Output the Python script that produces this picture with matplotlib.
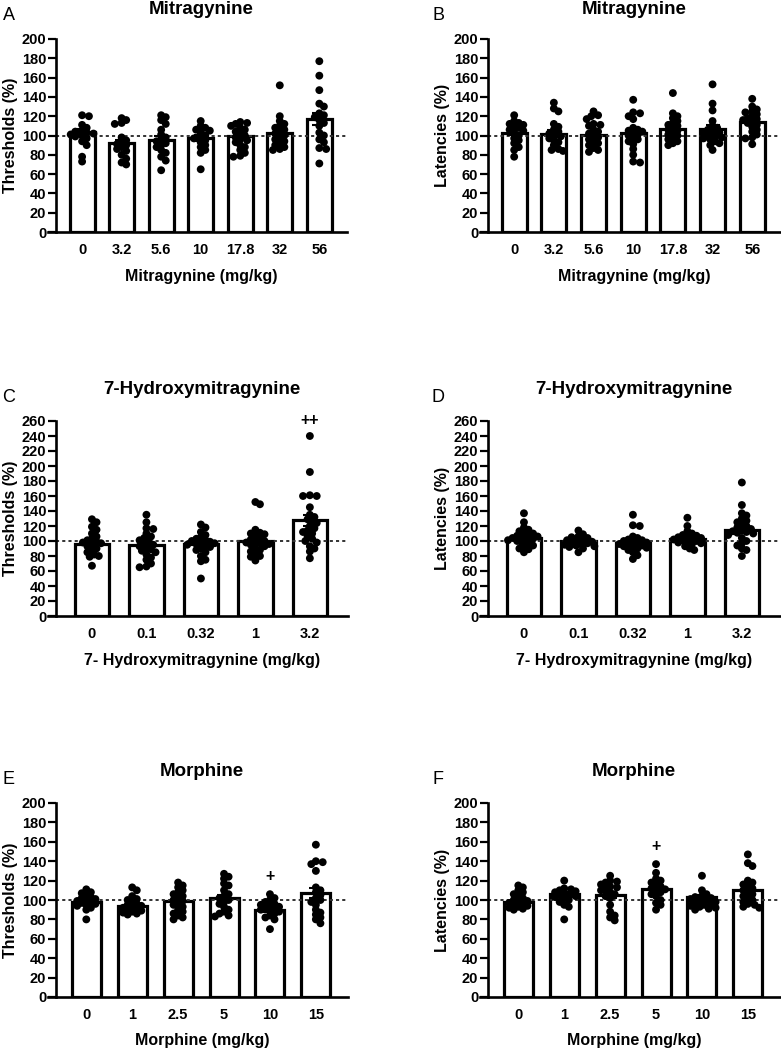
import numpy as np
import matplotlib
matplotlib.use('Agg')
import matplotlib.pyplot as plt

plt.rcParams['font.family'] = ['Liberation Sans', 'DejaVu Sans']

# ---------------- data ----------------
mit_doses = ['0', '3.2', '5.6', '10', '17.8', '32', '56']
hmg_doses = ['0', '0.1', '0.32', '1', '3.2']
mor_doses = ['0', '1', '2.5', '5', '10', '15']

# Panel A: Mitragynine thresholds (%)
a_means = [104, 92, 95.5, 97, 99, 103, 117]
a_points = [
    [121, 120, 111, 108, 105, 104, 103, 102, 101, 100, 99, 97, 94, 90, 78, 73],
    [118, 116, 113, 112, 98, 95, 93, 91, 90, 88, 86, 84, 80, 76, 72, 70],
    [121, 119, 116, 112, 106, 101, 98, 96, 94, 92, 90, 88, 85, 82, 78, 74, 64],
    [115, 110, 108, 106, 105, 103, 100, 98, 97, 95, 93, 90, 88, 85, 82, 65],
    [114, 113, 112, 110, 108, 106, 104, 102, 100, 98, 96, 95, 93, 90, 88, 85, 82, 79, 78],
    [152, 120, 115, 112, 110, 108, 106, 104, 102, 100, 98, 96, 94, 92, 90, 88, 86, 85],
    [177, 162, 147, 133, 130, 123, 121, 119, 116, 113, 110, 103, 100, 96, 93, 87, 86, 71],
]

# Panel B: Mitragynine latencies (%)
b_means = [103, 102, 101, 103, 107, 107, 114]
b_points = [
    [121, 115, 113, 112, 111, 110, 108, 106, 105, 103, 100, 97, 95, 92, 88, 85, 78],
    [134, 128, 125, 112, 109, 106, 104, 102, 100, 99, 97, 95, 93, 90, 86, 85, 84],
    [125, 121, 120, 117, 112, 111, 110, 106, 104, 102, 100, 98, 96, 94, 92, 90, 87, 85, 83],
    [137, 124, 123, 120, 117, 108, 106, 105, 104, 103, 101, 100, 98, 96, 94, 91, 86, 80, 73, 72],
    [144, 123, 120, 118, 115, 113, 111, 110, 108, 106, 105, 103, 101, 100, 98, 96, 94, 92, 90],
    [153, 133, 126, 115, 110, 108, 106, 104, 103, 102, 100, 99, 98, 97, 96, 94, 92, 90, 85],
    [138, 130, 127, 125, 124, 122, 120, 118, 117, 116, 115, 113, 111, 109, 106, 104, 101, 98, 97, 91],
]

# Panel C: 7-Hydroxymitragynine thresholds (%)
c_means = [96.5, 95, 95.5, 100, 127.5]
c_points = [
    [129, 125, 119, 115, 110, 106, 103, 101, 99, 98, 97, 95, 93, 90, 88, 85, 82, 80, 79, 67],
    [135, 125, 117, 116, 110, 106, 104, 101, 99, 97, 95, 93, 91, 89, 87, 85, 82, 78, 75, 70, 66, 65],
    [122, 118, 112, 108, 105, 103, 101, 100, 99, 98, 97, 96, 95, 94, 92, 90, 88, 85, 80, 75, 73, 50],
    [152, 149, 115, 111, 110, 109, 106, 104, 102, 100, 99, 98, 97, 96, 95, 93, 90, 88, 86, 83, 80, 79, 74],
    [240, 192, 161, 160, 160, 145, 135, 132, 129, 126, 124, 120, 117, 114, 112, 110, 106, 103, 100, 98, 93, 90, 86, 77],
]

# Panel D: 7-Hydroxymitragynine latencies (%)
d_means = [104, 100, 98, 103, 114.5]
d_points = [
    [137, 125, 118, 115, 113, 111, 110, 108, 107, 106, 105, 104, 103, 102, 101, 100, 98, 96, 94, 92, 90, 89, 85],
    [114, 109, 106, 105, 104, 102, 101, 100, 99, 98, 97, 96, 95, 94, 93, 92, 90, 85],
    [135, 121, 120, 106, 104, 102, 101, 100, 99, 98, 97, 96, 95, 94, 93, 92, 91, 90, 88, 85, 81, 76],
    [131, 120, 113, 110, 108, 107, 106, 105, 104, 103, 102, 101, 100, 99, 98, 97, 96, 93, 90, 88],
    [178, 148, 137, 134, 130, 127, 125, 122, 120, 118, 116, 114, 113, 112, 111, 110, 108, 104, 100, 97, 94, 90, 88, 80],
]

# Panel E: Morphine thresholds (%)
e_means = [98, 93.5, 99, 102, 90, 107]
e_points = [
    [111, 108, 107, 105, 103, 102, 101, 100, 99, 98, 97, 96, 95, 94, 92, 90, 80],
    [113, 110, 104, 101, 100, 98, 96, 95, 94, 93, 92, 91, 90, 89, 88, 87, 86, 85],
    [118, 115, 113, 110, 108, 106, 104, 102, 100, 99, 97, 95, 93, 90, 88, 86, 84, 82, 80],
    [127, 124, 122, 117, 115, 110, 106, 104, 102, 100, 98, 96, 93, 90, 88, 86, 84, 83],
    [106, 102, 100, 98, 96, 95, 94, 93, 92, 91, 90, 89, 88, 86, 84, 82, 80, 70],
    [157, 140, 139, 137, 130, 113, 110, 108, 105, 102, 100, 98, 95, 90, 87, 85, 82, 80, 76],
]

# Panel F: Morphine latencies (%)
f_means = [98, 106, 105, 111, 103, 110]
f_points = [
    [115, 113, 110, 108, 106, 104, 102, 100, 99, 98, 97, 96, 95, 94, 93, 92, 91, 90],
    [120, 112, 111, 110, 109, 108, 107, 106, 105, 104, 103, 102, 100, 98, 95, 93, 80],
    [125, 120, 119, 118, 116, 114, 113, 112, 110, 108, 106, 104, 102, 95, 88, 84, 82, 79],
    [137, 128, 122, 120, 118, 116, 114, 112, 111, 110, 108, 106, 104, 100, 97, 95, 90],
    [125, 110, 106, 104, 103, 102, 101, 100, 99, 98, 97, 96, 95, 94, 93, 92, 91, 90],
    [147, 138, 135, 120, 118, 116, 114, 112, 110, 108, 106, 104, 102, 100, 98, 96, 95, 93, 92],
]

# significance marks: (group index, y value, text)
c_mark = (4, 260, '++')
e_mark = (4, 124, '+')
f_mark = (3, 155, '+')

# ---------------- figure ----------------
W, H = 781, 1050
fig = plt.figure(figsize=(W / 100, H / 100), dpi=100)


def add_ax(left, top, right, bottom):
    return fig.add_axes([left / W, 1 - bottom / H, (right - left) / W, (bottom - top) / H])


def swarm(ax, xc, vals, d, maxoff):
    tr = ax.transData
    placed = []
    out = []
    step = d * 0.3
    cands = [0.0]
    k = 1
    while k * step <= maxoff:
        cands += [k * step, -k * step]
        k += 1
    for v in vals:
        x0, y = tr.transform((xc, v))
        best = None
        bestscore = -1
        for c in cands:
            if placed:
                md = min(np.hypot(x0 + c - px, y - py) for px, py in placed)
            else:
                md = 1e9
            if md >= 0.62 * d:
                best = c
                break
            if md > bestscore:
                bestscore = md
                best = c
        placed.append((x0 + best, y))
        out.append(tr.inverted().transform((x0 + best, y)))
    return np.array(out)


def panel(box, cats, means, points, ymax, title, ylabel, xlabel, letter, letter_xy,
          title_y, xlabel_y, mark=None):
    left, top, right, bottom = box
    ax = add_ax(left, top, right, bottom)
    n = len(cats)
    x = np.arange(n)
    ax.set_xlim(-0.66, n - 1 + 0.7)
    ax.set_ylim(0, ymax)
    ax.bar(x, means, width=0.63, facecolor='white', edgecolor='black', linewidth=2.3, zorder=2)
    ax.axhline(100, color='#333333', linestyle=(0, (1.6, 1.6)), linewidth=1.4, zorder=2.5)
    fig.canvas.draw()
    xpx = (right - left) / (n - 1 + 0.7 + 0.66)
    for i, vals in enumerate(points):
        pts = swarm(ax, x[i], vals, 7.6, 0.3 * xpx)
        ax.scatter(pts[:, 0], pts[:, 1], s=32, color='black', edgecolors='none', zorder=3,
                   clip_on=False)
    sems = [np.std(v, ddof=1) / np.sqrt(len(v)) for v in points]
    ax.errorbar(x, means, yerr=sems, fmt='none', ecolor='black', elinewidth=1.5,
                capsize=5, capthick=1.5, zorder=4)
    for s in ['top', 'right']:
        ax.spines[s].set_visible(False)
    for s in ['left', 'bottom']:
        ax.spines[s].set_linewidth(1.9)
    ext = 8 / xpx
    ax.spines['bottom'].set_bounds(-0.66 - ext, n - 1 + 0.7)
    ax.set_yticks(np.arange(0, ymax + 1, 20))
    ax.set_xticks(x)
    ax.set_xticklabels(cats)
    ax.tick_params(axis='y', length=5.5, width=1.6, pad=1.5, labelsize=10.5)
    ax.tick_params(axis='x', length=0, pad=8, labelsize=10.5)
    for lab in ax.get_xticklabels() + ax.get_yticklabels():
        lab.set_fontweight('bold')
    cx = (left + right) / 2
    fig.text(cx / W, 1 - title_y / H, title, ha='center', va='center', fontsize=13.5,
             fontweight='bold')
    fig.text(cx / W, 1 - xlabel_y / H, xlabel, ha='center', va='center', fontsize=11.5,
             fontweight='bold')
    fig.text((left - 45) / W, 1 - ((top + bottom) / 2) / H, ylabel, ha='center', va='center',
             rotation=90, fontsize=11.5, fontweight='bold')
    fig.text(letter_xy[0] / W, 1 - letter_xy[1] / H, letter, ha='center', va='center',
             fontsize=13)
    if mark is not None:
        gi, yv, txt = mark
        ax.text(x[gi], yv, txt, ha='center', va='center', fontsize=11.5, fontweight='bold',
                clip_on=False, zorder=5)
    return ax


panel((56, 39, 347, 232), mit_doses, a_means, a_points, 200, 'Mitragynine',
      'Thresholds (%)', 'Mitragynine (mg/kg)', 'A', (9, 16), 10, 277)
panel((488, 39, 780, 232), mit_doses, b_means, b_points, 200, 'Mitragynine',
      'Latencies (%)', 'Mitragynine (mg/kg)', 'B', (438, 16), 10, 277)
panel((56, 421, 348, 616), hmg_doses, c_means, c_points, 260, '7-Hydroxymitragynine',
      'Thresholds (%)', '7- Hydroxymitragynine (mg/kg)', 'C', (9, 398), 390, 661, c_mark)
panel((488, 421, 780, 616), hmg_doses, d_means, d_points, 260, '7-Hydroxymitragynine',
      'Latencies (%)', '7- Hydroxymitragynine (mg/kg)', 'D', (438, 398), 390, 661)
panel((56, 803, 348, 997), mor_doses, e_means, e_points, 200, 'Morphine',
      'Thresholds (%)', 'Morphine (mg/kg)', 'E', (9, 779), 772, 1040, e_mark)
panel((488, 803, 780, 997), mor_doses, f_means, f_points, 200, 'Morphine',
      'Latencies (%)', 'Morphine (mg/kg)', 'F', (438, 779), 772, 1040, f_mark)

fig.savefig('out.png', dpi=100)
